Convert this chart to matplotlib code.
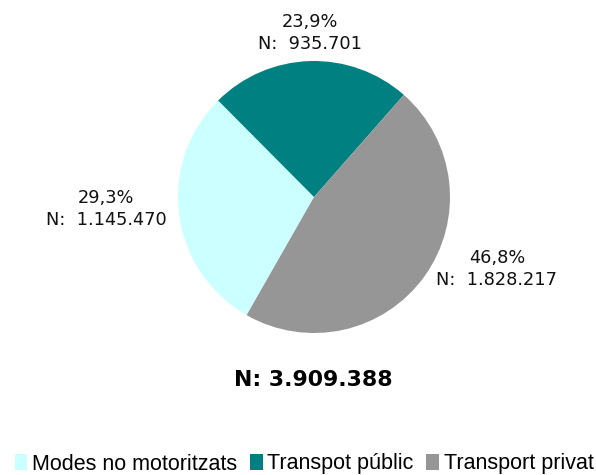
import matplotlib.pyplot as plt
from matplotlib.patches import Patch

# data
categories = ["Modes no motoritzats", "Transpot públic", "Transport privat"]
values = [1145470, 935701, 1828217]
pct_labels = ["29,3%", "23,9%", "46,8%"]
n_labels = ["N:  1.145.470", "N:  935.701", "N:  1.828.217"]
total_label = "N: 3.909.388"
colors = ["#CCFFFF", "#008080", "#969696"]

fig = plt.figure(figsize=(5.96, 4.75), dpi=100)

# pie axes: centre at (314, 197) px, radius 136 px
r = 136
ax = fig.add_axes([(314 - r) / 596, (475 - 197 - r) / 475, 2 * r / 596, 2 * r / 475])
ax.pie(values, colors=colors, startangle=240.3, counterclock=False,
       wedgeprops={'linewidth': 0})
ax.set_xlim(-1, 1)
ax.set_ylim(-1, 1)
ax.set_aspect('equal')
ax.axis('off')

# label positions in pixel coords (centre of the two-line block)
label_pos = [(106, 209), (310, 33), (497, 269)]
for (px, py), p, n in zip(label_pos, pct_labels, n_labels):
    fig.text(px / 596, 1 - py / 475, p + "\n" + n, ha='center', va='center',
             fontsize=12.8, family='DejaVu Sans', color='#111111', linespacing=1.35)

fig.text(313 / 596, 1 - 380 / 475, total_label, ha='center', va='center',
         fontsize=15.8, fontweight='bold', family='DejaVu Sans')

handles = [Patch(facecolor=c, edgecolor='none') for c in colors]
fig.legend(handles, categories, loc='center', bbox_to_anchor=(304 / 596, 1 - 464 / 475),
           ncol=3, frameon=False, handlelength=0.6, handleheight=0.7,
           handletextpad=0.2, columnspacing=0.6,
           prop={'family': 'Liberation Sans', 'size': 15.5})

fig.savefig("out.png", dpi=100)
